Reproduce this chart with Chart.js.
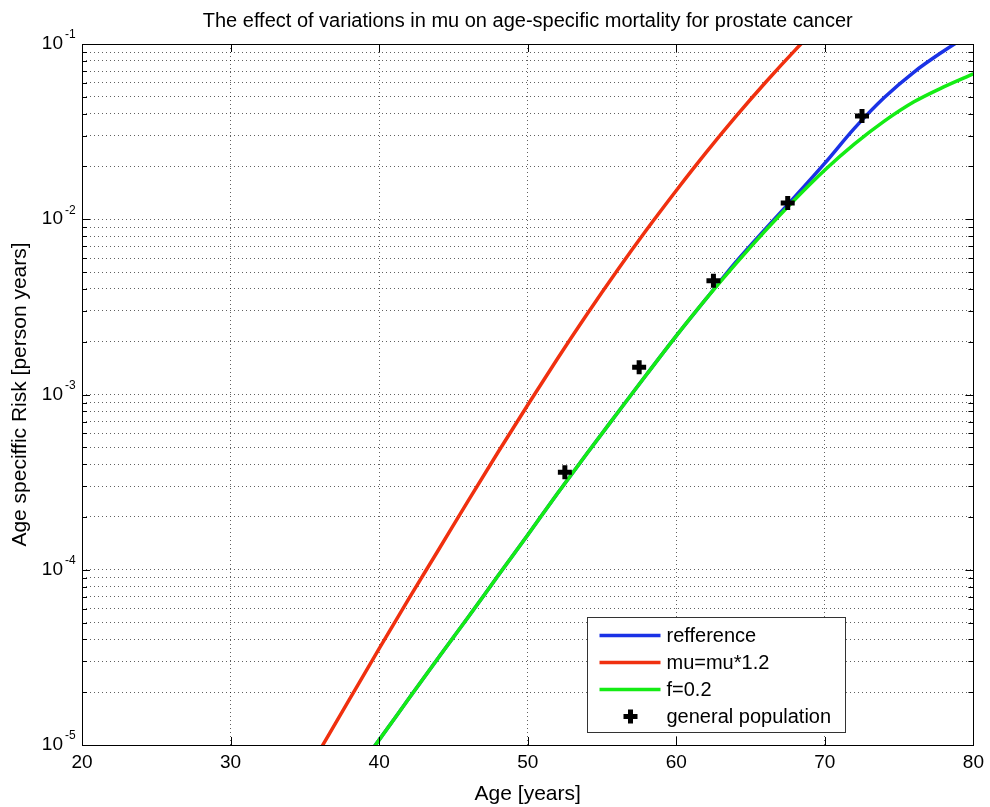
<!DOCTYPE html>
<html>
<head>
<meta charset="utf-8">
<script src="https://cdn.jsdelivr.net/npm/chart.js@4"></script>
<style>
    html, body { margin: 0; padding: 0; background: #fff; }
</style>
</head>
<body>
<canvas id="chart" width="990" height="807"></canvas>
<script>
// series (age in years, risk per person year)
const refAges = [38, 40, 42, 44, 46, 48, 50, 52, 54, 56, 58, 60, 62, 64, 66, 68, 70, 72, 74, 76, 78, 80]
const refRisk = [6.24e-6, 1.07e-5, 1.84e-5, 3.16e-5, 5.37e-5, 9.23e-5, 1.58e-4, 2.72e-4, 4.62e-4, 7.76e-4, 1.30e-3, 2.16e-3, 3.51e-3, 5.69e-3, 8.81e-3, 1.35e-2, 2.09e-2, 3.31e-2, 4.95e-2, 6.92e-2, 9.12e-2, 0.117]

const muAges = [36, 38, 40, 42, 44, 46, 48, 50, 52, 54, 56, 58, 60, 62, 64, 66, 68, 70]
const muRisk = [9.33e-6, 1.82e-5, 3.55e-5, 6.84e-5, 1.30e-4, 2.48e-4, 4.68e-4, 8.71e-4, 1.60e-3, 2.88e-3, 5.07e-3, 8.71e-3, 1.46e-2, 2.40e-2, 3.85e-2, 6.03e-2, 9.23e-2, 0.138]

const fAges = [38, 40, 42, 44, 46, 48, 50, 52, 54, 56, 58, 60, 62, 64, 66, 68, 70, 72, 74, 76, 78, 80]
const fRisk = [6.24e-6, 1.07e-5, 1.84e-5, 3.16e-5, 5.37e-5, 9.23e-5, 1.58e-4, 2.72e-4, 4.62e-4, 7.76e-4, 1.30e-3, 2.16e-3, 3.51e-3, 5.56e-3, 8.61e-3, 1.30e-2, 1.91e-2, 2.69e-2, 3.63e-2, 4.68e-2, 5.69e-2, 6.76e-2]

const popAges = [52.5, 57.5, 62.5, 67.5, 72.5]
const popRisk = [3.6e-4, 1.43e-3, 4.45e-3, 1.24e-2, 3.88e-2]

const xTicks = [20, 30, 40, 50, 60, 70, 80]
const yDecades = [-5, -4, -3, -2, -1]

const FONT = '"Liberation Sans", Arial, Helvetica, sans-serif'
Chart.defaults.font.family = FONT
Chart.defaults.color = '#000'
Chart.defaults.animation = false

const toPoints = (xs, ys) => xs.map((x, i) => ({ x: x, y: ys[i] }))

const GRID = 'rgba(0, 0, 0, 0.62)'

// matlab style box, inward ticks, 10^n labels and the legend inside the axes
const matlabFrame = {
    id: 'matlabFrame',
    afterDraw(chart) {
        const { ctx, chartArea: a, scales } = chart
        const xs = scales.x
        const ys = scales.y
        ctx.save()

        ctx.strokeStyle = '#000'
        ctx.lineWidth = 1
        ctx.beginPath()
        xs.ticks.forEach((t) => {
            const px = Math.round(xs.getPixelForValue(t.value)) + 0.5
            ctx.moveTo(px, a.bottom)
            ctx.lineTo(px, a.bottom - 8)
            ctx.moveTo(px, a.top)
            ctx.lineTo(px, a.top + 8)
        })
        ys.ticks.forEach((t) => {
            const py = Math.round(ys.getPixelForValue(t.value)) + 0.5
            const len = t.major ? 8 : 5
            ctx.moveTo(a.left, py)
            ctx.lineTo(a.left + len, py)
            ctx.moveTo(a.right, py)
            ctx.lineTo(a.right - len, py)
        })
        ctx.stroke()
        ctx.strokeRect(Math.round(a.left) + 0.5, Math.round(a.top) + 0.5,
            Math.round(a.right - a.left), Math.round(a.bottom - a.top))

        // y tick labels with superscript exponent
        ctx.fillStyle = '#000'
        yDecades.forEach((e) => {
            const py = ys.getPixelForValue(Math.pow(10, e))
            ctx.font = '19px ' + FONT
            ctx.textAlign = 'right'
            ctx.textBaseline = 'middle'
            ctx.fillText('10', a.left - 19, py)
            ctx.font = '12px ' + FONT
            ctx.textAlign = 'left'
            ctx.fillText('-' + Math.abs(e), a.left - 17, py - 9)
        })

        // legend
        const bx = Math.round(a.right - 386) + 0.5
        const by = Math.round(a.bottom - 128) + 0.5
        const bw = 258
        const bh = 115
        ctx.fillStyle = '#fff'
        ctx.fillRect(bx, by, bw, bh)
        ctx.strokeStyle = '#333'
        ctx.lineWidth = 1
        ctx.strokeRect(bx, by, bw, bh)

        chart.data.datasets.forEach((ds, i) => {
            const ry = by + 18 + i * 27
            if (ds.showLine === false) {
                ctx.strokeStyle = ds.borderColor
                ctx.lineWidth = ds.pointBorderWidth
                ctx.beginPath()
                ctx.moveTo(bx + 43 - ds.pointRadius, ry)
                ctx.lineTo(bx + 43 + ds.pointRadius, ry)
                ctx.moveTo(bx + 43, ry - ds.pointRadius)
                ctx.lineTo(bx + 43, ry + ds.pointRadius)
                ctx.stroke()
            } else {
                ctx.strokeStyle = ds.borderColor
                ctx.lineWidth = ds.borderWidth
                ctx.beginPath()
                ctx.moveTo(bx + 12, ry)
                ctx.lineTo(bx + 73, ry)
                ctx.stroke()
            }
            ctx.fillStyle = '#000'
            ctx.font = '20px ' + FONT
            ctx.textAlign = 'left'
            ctx.textBaseline = 'middle'
            ctx.fillText(ds.label, bx + 79, ry + 1)
        })

        ctx.restore()
    }
}

new Chart(document.getElementById('chart'), {
    type: 'line',
    data: {
        datasets: [
            {
                label: 'refference',
                data: toPoints(refAges, refRisk),
                borderColor: '#1a32e6',
                borderWidth: 3.5,
                pointRadius: 0,
                cubicInterpolationMode: 'monotone',
                order: 3,
            },
            {
                label: 'mu=mu*1.2',
                data: toPoints(muAges, muRisk),
                borderColor: '#f0300f',
                borderWidth: 3.5,
                pointRadius: 0,
                cubicInterpolationMode: 'monotone',
                order: 2,
            },
            {
                label: 'f=0.2',
                data: toPoints(fAges, fRisk),
                borderColor: '#14ec14',
                borderWidth: 3.5,
                pointRadius: 0,
                cubicInterpolationMode: 'monotone',
                order: 1,
            },
            {
                label: 'general population',
                data: toPoints(popAges, popRisk),
                showLine: false,
                borderColor: '#000',
                backgroundColor: '#000',
                pointStyle: 'cross',
                pointRadius: 7,
                pointBorderWidth: 5,
                order: 0,
            },
        ],
    },
    options: {
        responsive: false,
        layout: {
            padding: { left: 0, right: 14, top: 0, bottom: 0 },
        },
        plugins: {
            legend: { display: false },
            tooltip: { enabled: false },
            title: {
                display: true,
                fullSize: false,
                text: 'The effect of variations in mu on age-specific mortality for prostate cancer',
                font: { size: 20, weight: 'normal' },
                color: '#000',
                padding: { top: 9, bottom: 11 },
            },
        },
        scales: {
            x: {
                type: 'linear',
                min: 20,
                max: 80,
                afterBuildTicks: (scale) => {
                    scale.ticks = xTicks.map((v) => ({ value: v }))
                },
                afterFit: (scale) => {
                    scale.height = 62
                },
                ticks: {
                    font: { size: 19 },
                    color: '#000',
                    padding: 6,
                    maxRotation: 0,
                },
                grid: { color: GRID, lineWidth: 1, drawTicks: false },
                border: { display: false, dash: [1, 3] },
                title: {
                    display: true,
                    text: 'Age [years]',
                    font: { size: 21 },
                    color: '#000',
                    padding: { top: 0, bottom: 0 },
                },
            },
            y: {
                type: 'logarithmic',
                min: 1e-5,
                max: 1e-1,
                afterBuildTicks: (scale) => {
                    const ticks = []
                    yDecades.forEach((e, i) => {
                        const steps = i === yDecades.length - 1 ? [1] : [1, 2, 3, 4, 5, 6, 7, 8, 9]
                        steps.forEach((m) => ticks.push({ value: m * Math.pow(10, e), major: m === 1 }))
                    })
                    scale.ticks = ticks
                },
                afterFit: (scale) => {
                    scale.width = 82
                },
                ticks: { display: false },
                grid: { color: GRID, lineWidth: 1, drawTicks: false },
                border: { display: false, dash: [1, 3] },
                title: {
                    display: true,
                    text: 'Age speciffic Risk [person years]',
                    font: { size: 21 },
                    color: '#000',
                    padding: { top: 8, bottom: 0 },
                },
            },
        },
    },
    plugins: [matlabFrame],
})
</script>
</body>
</html>
